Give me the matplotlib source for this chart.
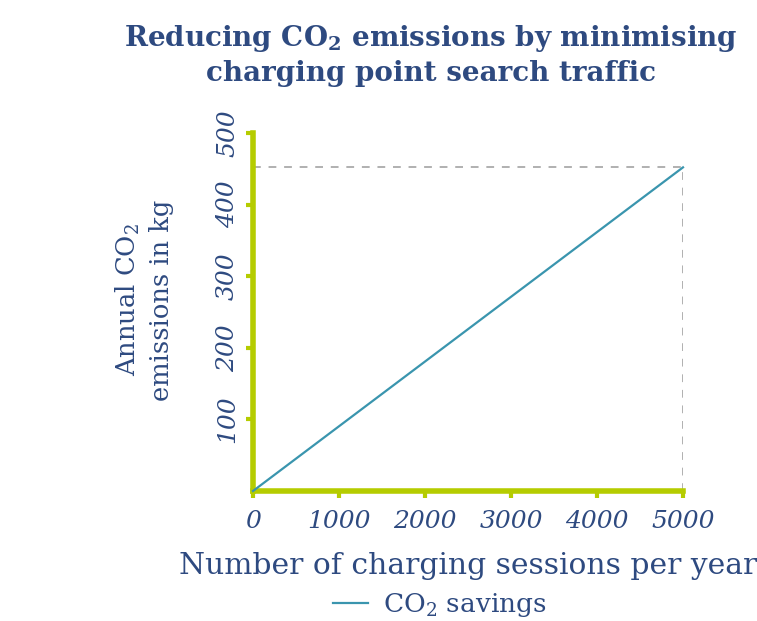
import matplotlib
matplotlib.use("Agg")
import matplotlib.pyplot as plt

sessions = [0, 5000]
co2_savings = [0, 452]
x_ticks = [0, 1000, 2000, 3000, 4000, 5000]
y_ticks = [100, 200, 300, 400, 500]

SERIF = "DejaVu Serif"
plt.rcParams["font.family"] = SERIF
plt.rcParams["mathtext.fontset"] = "custom"
plt.rcParams["mathtext.rm"] = SERIF
plt.rcParams["mathtext.it"] = SERIF + ":italic"
plt.rcParams["mathtext.bf"] = SERIF + ":bold"

BLUE = "#2e4a80"
GREEN = "#b5cc00"
TEAL = "#3a95ae"
GREY = "#b0b0b0"

fig = plt.figure(figsize=(7.57, 6.21), dpi=100)
ax = fig.add_axes([253 / 757, 1 - 491 / 621, 430 / 757, 358 / 621])

ax.set_xlim(0, 5000)
ax.set_ylim(0, 500)

# guide lines to the end point
ax.plot([0, sessions[-1]], [co2_savings[-1]] * 2, ls=(0, (4, 4)), color=GREY, lw=1.4, zorder=1)
ax.plot([sessions[-1]] * 2, [0, co2_savings[-1]], ls=(0, (4, 4)), color=GREY, lw=1.4, zorder=1)

line, = ax.plot(sessions, co2_savings, color=TEAL, lw=1.6, zorder=3, clip_on=False,
                label="CO$_2$ savings")

for side in ("top", "right"):
    ax.spines[side].set_visible(False)
for side in ("left", "bottom"):
    ax.spines[side].set_color(GREEN)
    ax.spines[side].set_linewidth(4)

ax.set_xticks(x_ticks)
ax.set_xticklabels([str(v) for v in x_ticks], fontsize=18, style="italic", color=BLUE)
ax.set_yticks(y_ticks)
ax.set_yticklabels([str(v) for v in y_ticks], fontsize=18, style="italic", color=BLUE,
                   rotation=90, va="center")
ax.tick_params(axis="both", colors=GREEN, length=5, width=3, labelcolor=BLUE)
ax.tick_params(axis="x", pad=9)
ax.tick_params(axis="y", pad=5)

ax.set_xlabel("Number of charging sessions per year", fontsize=21.4, color=BLUE, labelpad=13)

fig.text(144 / 757, 1 - 300 / 621, "Annual CO$_2$\nemissions in kg", rotation=90,
         ha="center", va="center", fontsize=18.5, color=BLUE, linespacing=1.35)

fig.text(431 / 757, 1 - 55 / 621,
         "Reducing CO$_\\mathbf{2}$ emissions by minimising\ncharging point search traffic",
         ha="center", va="center", fontsize=20, fontweight="bold", color=BLUE,
         linespacing=1.25)

fig.legend(handles=[line], loc="center", bbox_to_anchor=(440 / 757, 1 - 605 / 621),
           frameon=False, fontsize=19, labelcolor=BLUE, handlelength=1.3,
           handletextpad=0.6)

fig.savefig("out.png", dpi=100)
